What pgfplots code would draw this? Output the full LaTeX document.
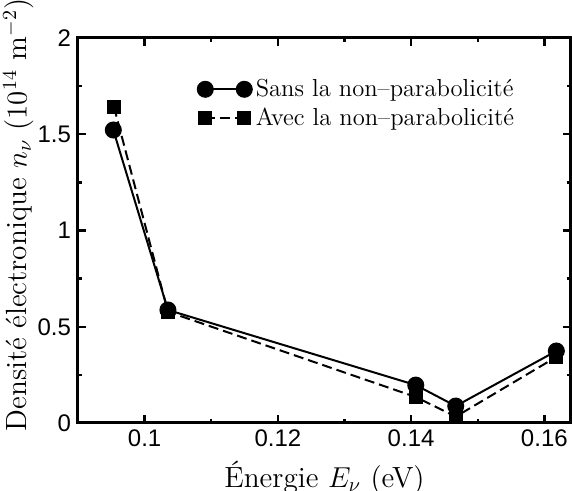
\documentclass[border=0pt]{standalone}
\usepackage{fontspec}
\usepackage{pgfplots}
\pgfplotsset{compat=1.18}
\newfontfamily\ticksf{Liberation Sans}

\begin{document}
\begin{tikzpicture}
  \begin{axis}[
    scale only axis,
    width=246.5pt, height=192.5pt,
    xmin=0.09, xmax=0.164,
    ymin=0, ymax=2,
    xtick={0.1,0.12,0.14,0.16},
    ytick={0,0.5,1,1.5,2},
    minor x tick num=1,
    minor y tick num=1,
    scaled x ticks=false,
    tick align=inside,
    major tick length=4pt,
    minor tick length=2pt,
    every tick/.style={line width=1.2pt, black},
    axis line style={line width=1.5pt},
    /pgf/number format/assume math mode=true,
    tick label style={font=\fontsize{12}{13}\selectfont\ticksf},
    label style={font=\fontsize{14.6}{16}\selectfont},
    xlabel={Énergie $E_\nu$ (eV)},
    ylabel={Densité électronique $n_\nu$ ($10^{14}$ m$^{-2}$)},
    ylabel style={at={(ticklabel cs:0.54)}},
    ylabel shift=-5pt,
    legend style={draw=none, fill=none, at={(0.23,0.915)}, anchor=north west,
      font=\fontsize{12.3}{13.5}\selectfont, row sep=0pt},
    legend cell align=left,
    legend image code/.code={\draw[#1] plot coordinates {(0pt,0pt) (19.5pt,0pt)};},
  ]
    % sans la non-parabolicite
    \addplot[black, line width=1pt, mark=*, mark size=3.75pt]
      coordinates {
        (0.0953,1.522) (0.1035,0.587) (0.1407,0.197) (0.1467,0.088) (0.1618,0.374)
      };
    \addlegendentry{Sans la non--parabolicité}
    % avec la non-parabolicite
    \addplot[black, line width=1pt, dash pattern=on 5pt off 2.5pt,
             mark=square*, mark size=3pt, mark options={solid}]
      coordinates {
        (0.0954,1.642) (0.1035,0.578) (0.1407,0.135) (0.1467,0.033) (0.1618,0.343)
      };
    \addlegendentry{Avec la non--parabolicité}
  \end{axis}
  % crop the page the way the reference is cropped
  \pgfresetboundingbox
  \path ([shift={(-39pt,-34pt)}]current axis.south west)
    rectangle ([shift={(0.5pt,19pt)}]current axis.north east);
\end{tikzpicture}
\end{document}
